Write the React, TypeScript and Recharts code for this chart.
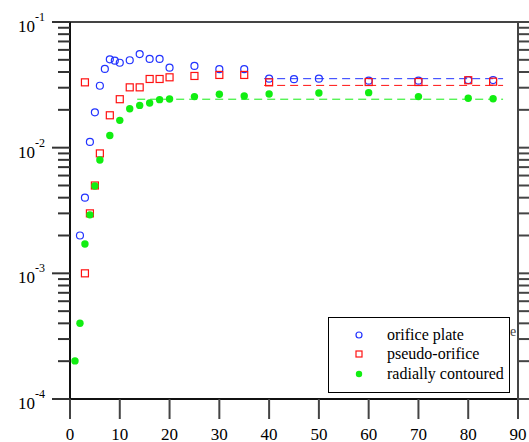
import React from 'react';
import { ComposedChart, Scatter, Line, XAxis, YAxis, Legend } from 'recharts';

const xTicks = [0, 10, 20, 30, 40, 50, 60, 70, 80, 90];
const yDecades = [1e-4, 1e-3, 1e-2];
const yMultipliers = [1, 2, 3, 4, 5, 6, 7, 8, 9];
const yTicks = [...yDecades.flatMap((d) => yMultipliers.map((m) => m * d)), 1e-1];

const orificeX = [2, 3, 4, 5, 6, 7, 8, 9, 10, 12, 14, 16, 18, 20, 25, 30, 35, 40, 45, 50, 60, 70, 80, 85];
const orificeY = [0.002, 0.004, 0.0111, 0.0191, 0.0311, 0.0423, 0.0505, 0.0492, 0.0474, 0.0496, 0.0556, 0.0508, 0.0508, 0.0433, 0.0447, 0.0421, 0.0421, 0.0354, 0.0351, 0.0354, 0.0341, 0.0341, 0.0345, 0.0345];

const pseudoX = [3, 3, 4, 5, 6, 8, 10, 12, 14, 16, 18, 20, 25, 30, 35, 40, 60, 70, 80, 85];
const pseudoY = [0.001, 0.0331, 0.003, 0.005, 0.009, 0.0181, 0.0243, 0.0302, 0.0302, 0.0352, 0.0352, 0.0363, 0.0372, 0.0379, 0.0379, 0.0331, 0.0333, 0.0333, 0.0344, 0.0335];

const radialX = [1, 2, 3, 4, 5, 6, 8, 10, 12, 14, 16, 18, 20, 25, 30, 35, 40, 50, 60, 70, 80, 85];
const radialY = [0.000201, 0.000401, 0.00171, 0.00292, 0.00496, 0.00798, 0.0125, 0.0165, 0.0204, 0.0217, 0.0227, 0.0241, 0.0244, 0.0255, 0.0266, 0.0258, 0.0267, 0.0272, 0.0274, 0.0255, 0.0247, 0.0245];

const orificeFitX = [39, 87];
const orificeFitY = [0.0354, 0.0354];
const pseudoFitX = [39, 87];
const pseudoFitY = [0.0313, 0.0313];
const radialFitX = [13.5, 87];
const radialFitY = [0.0243, 0.0243];

const zip = (xs: number[], ys: number[]) => xs.map((x, i) => ({ x, y: ys[i] }));

const orificeData = zip(orificeX, orificeY);
const pseudoData = zip(pseudoX, pseudoY);
const radialData = zip(radialX, radialY);
const orificeFit = zip(orificeFitX, orificeFitY);
const pseudoFit = zip(pseudoFitX, pseudoFitY);
const radialFit = zip(radialFitX, radialFitY);

const BLUE = '#2233ff';
const RED = '#ff1111';
const GREEN = '#11ee11';
const FONT = '"Liberation Serif", "Times New Roman", serif';

const isMajor = (v: number) => Math.abs(Math.log10(v) - Math.round(Math.log10(v))) < 1e-6;

const LeftTick = (p: any) => {
  const { x, y, payload } = p;
  const v = payload.value;
  if (isMajor(v)) {
    const e = Math.round(Math.log10(v));
    return (
      <g>
        <line x1={x - 18} x2={x} y1={y} y2={y} stroke="#333" strokeWidth={2} />
        <text x={45} y={y + 10} textAnchor="end" fontFamily={FONT} fontSize={17} fill="#000">
          10<tspan dy={-11} fontSize={12}>{String(e)}</tspan>
        </text>
      </g>
    );
  }
  return <line x1={x - 12} x2={x} y1={y} y2={y} stroke="#333" strokeWidth={2} />;
};

const RightTick = (p: any) => {
  const { x, y, payload } = p;
  const len = isMajor(payload.value) ? 18 : 12;
  return <line x1={x} x2={x + len} y1={y} y2={y} stroke="#444" strokeWidth={2} />;
};

const BottomTick = (p: any) => {
  const { x, y, payload } = p;
  return (
    <g>
      <line x1={x} x2={x} y1={y} y2={y + 20} stroke="#444" strokeWidth={2} />
      <text x={x} y={y + 41} textAnchor="middle" fontFamily={FONT} fontSize={17} fill="#000">
        {payload.value}
      </text>
    </g>
  );
};

const TopTick = (p: any) => {
  const { x, y } = p;
  return <line x1={x} x2={x} y1={y} y2={y - 13} stroke="#333" strokeWidth={2} />;
};

const OpenCircle = (p: any) => (
  <circle cx={p.cx} cy={p.cy} r={3.5} fill="none" stroke={BLUE} strokeWidth={1.2} />
);
const OpenSquare = (p: any) => (
  <rect x={p.cx - 3.5} y={p.cy - 3.5} width={7} height={7} fill="none" stroke={RED} strokeWidth={1.2} />
);
const FilledCircle = (p: any) => <circle cx={p.cx} cy={p.cy} r={3.7} fill={GREEN} stroke="none" />;

const LegendBox = () => (
  <svg width={183} height={77} style={{ display: 'block' }}>
    <rect x={0.5} y={0.5} width={181} height={75} fill="#fff" stroke="#000" strokeWidth={1} />
    <circle cx={31} cy={18} r={3} fill="none" stroke={BLUE} strokeWidth={1.2} />
    <rect x={28} y={34} width={6} height={6} fill="none" stroke={RED} strokeWidth={1.2} />
    <circle cx={31} cy={57} r={3.2} fill={GREEN} />
    <text x={59} y={23} fontFamily={FONT} fontSize={16} fill="#000">orifice plate</text>
    <text x={59} y={42} fontFamily={FONT} fontSize={16} fill="#000">pseudo-orifice</text>
    <text x={59} y={62} fontFamily={FONT} fontSize={16} fill="#000">radially contoured</text>
  </svg>
);

export default function App() {
  return (
    <div style={{ position: 'absolute', left: 0, top: 0, width: 529, height: 442, background: '#fff' }}>
      <span
        style={{ position: 'absolute', left: 510, top: 324, fontFamily: FONT, fontSize: 14, color: '#444' }}
      >
        e
      </span>
      <ComposedChart width={529} height={442} margin={{ top: 0, right: 0, bottom: 0, left: 0 }}>
        <XAxis
          xAxisId="b"
          dataKey="x"
          type="number"
          domain={[0, 90]}
          ticks={xTicks}
          interval={0}
          height={43}
          tickSize={0}
          tickMargin={0}
          tickLine={false}
          tick={BottomTick}
          axisLine={{ stroke: '#111', strokeWidth: 2 }}
          allowDataOverflow
        />
        <XAxis
          xAxisId="t"
          orientation="top"
          type="number"
          domain={[0, 90]}
          ticks={xTicks}
          interval={0}
          height={22}
          tickSize={0}
          tickMargin={0}
          tickLine={false}
          tick={TopTick}
          axisLine={{ stroke: '#444', strokeWidth: 2 }}
          allowDataOverflow
        />
        <YAxis
          yAxisId="l"
          dataKey="y"
          type="number"
          scale="log"
          domain={[1e-4, 1e-1]}
          ticks={yTicks}
          interval={0}
          width={70}
          tickSize={0}
          tickMargin={0}
          tickLine={false}
          tick={LeftTick}
          axisLine={{ stroke: '#111', strokeWidth: 2 }}
          allowDataOverflow
        />
        <YAxis
          yAxisId="r"
          orientation="right"
          type="number"
          scale="log"
          domain={[1e-4, 1e-1]}
          ticks={yTicks}
          interval={0}
          width={11}
          tickSize={0}
          tickMargin={0}
          tickLine={false}
          tick={RightTick}
          axisLine={{ stroke: '#444', strokeWidth: 2 }}
          allowDataOverflow
        />
        <Line xAxisId="b" yAxisId="l" data={orificeFit} dataKey="y" stroke={BLUE} strokeWidth={1} strokeDasharray="8 5" dot={false} isAnimationActive={false} legendType="none" />
        <Line xAxisId="b" yAxisId="l" data={pseudoFit} dataKey="y" stroke={RED} strokeWidth={1} strokeDasharray="8 5" dot={false} isAnimationActive={false} legendType="none" />
        <Line xAxisId="b" yAxisId="l" data={radialFit} dataKey="y" stroke={GREEN} strokeWidth={1} strokeDasharray="8 5" dot={false} isAnimationActive={false} legendType="none" />
        <Scatter xAxisId="b" yAxisId="l" name="orifice plate" data={orificeData} dataKey="y" shape={OpenCircle} isAnimationActive={false} />
        <Scatter xAxisId="b" yAxisId="l" name="pseudo-orifice" data={pseudoData} dataKey="y" shape={OpenSquare} isAnimationActive={false} />
        <Scatter xAxisId="b" yAxisId="l" name="radially contoured" data={radialData} dataKey="y" shape={FilledCircle} isAnimationActive={false} />
        <Legend
          layout="horizontal"
          verticalAlign="middle"
          align="center"
          wrapperStyle={{ left: 328, top: 317, width: 183, height: 77 }}
          content={LegendBox}
        />
      </ComposedChart>
    </div>
  );
}
